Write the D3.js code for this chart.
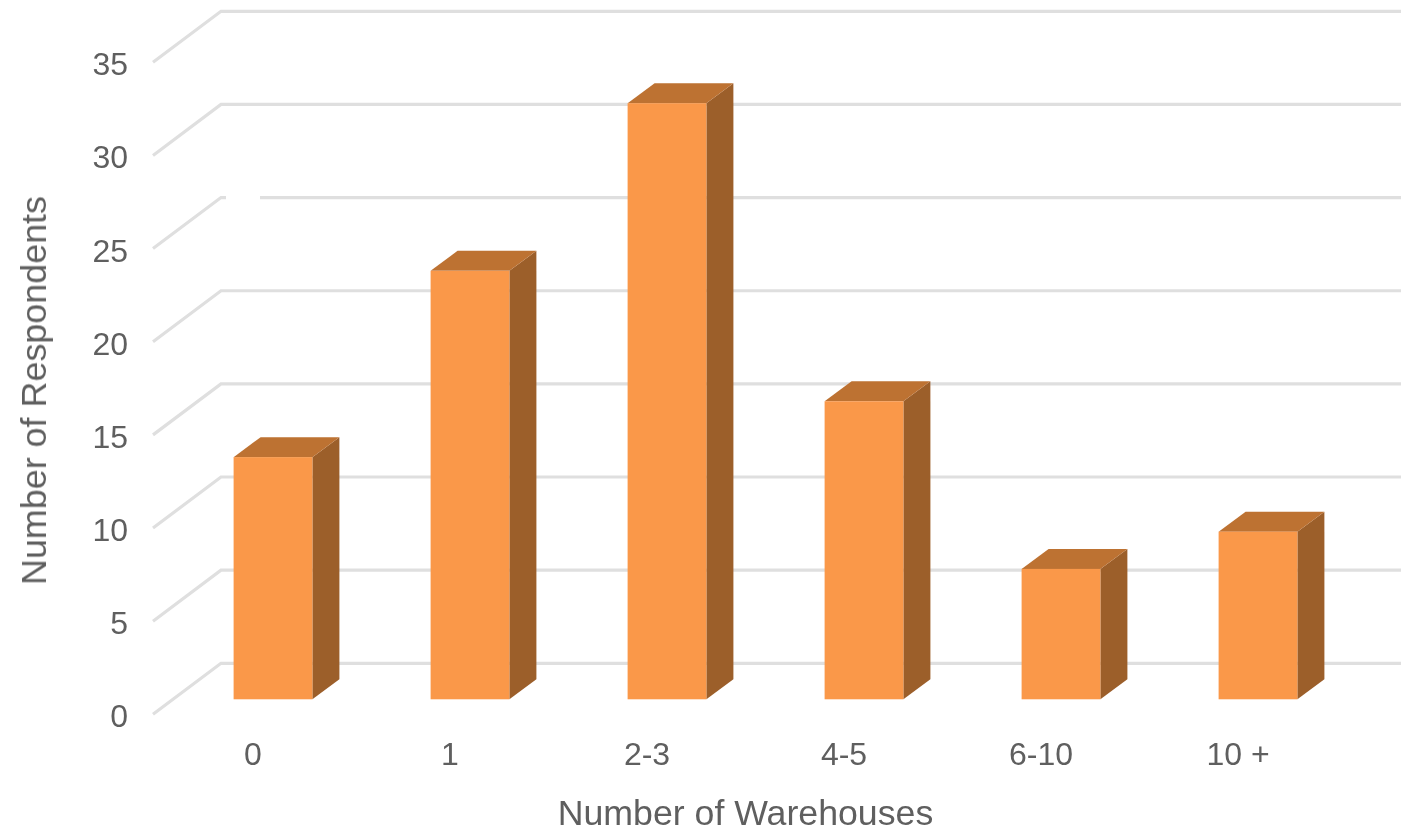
<!DOCTYPE html>
<html>
<head>
<meta charset="utf-8">
<script src="https://cdn.jsdelivr.net/npm/d3@7"></script>
<style>
html,body{margin:0;padding:0;background:#fff}
svg{display:block}
text{font-family:"Liberation Sans",Arial,sans-serif;fill:#5e5e5e}
</style>
</head>
<body>
<svg id="c" width="1401" height="833"></svg>
<script>
const categories = ["0","1","2-3","4-5","6-10","10 +"];
const respondents = [13,23,32,16,7,9];
const yTicks = [0,5,10,15,20,25,30,35];
const xTitle = "Number of Warehouses";
const yTitle = "Number of Respondents";

const svg = d3.select("#c");
const defs = svg.append("defs");
defs.append("filter").attr("id","soft").attr("x","-5%").attr("y","-5%").attr("width","110%").attr("height","110%")
  .append("feGaussianBlur").attr("stdDeviation",0.65);
defs.append("filter").attr("id","softText").attr("filterUnits","userSpaceOnUse")
  .attr("x",0).attr("y",0).attr("width",1401).attr("height",833)
  .append("feGaussianBlur").attr("stdDeviation",0.45);

const y = d3.scaleLinear().domain([0,35]).range([663.3,11.3]);
const x = d3.scaleBand().domain(categories).range([174.5,1356.5]).paddingInner(0.6).paddingOuter(0.3);
const wallX = 221, wallRight = 1401;
const floorDx = 68, floorDy = 51;      // side wall projection
const barDx = 27, barDy = 20;          // bar depth projection
const barShift = 36;                   // bar front plane below back wall

const g = svg.append("g").attr("filter","url(#soft)");

// gridlines
const grid = g.append("g").attr("fill","none").attr("stroke","#dfdfdf").attr("stroke-width",3.2);
grid.selectAll("path").data(yTicks).join("path")
  .attr("d", d => d3.line()([[wallX-floorDx,y(d)+floorDy],[wallX,y(d)],[wallRight,y(d)]]));

// faint white artefact on the 25 gridline
g.append("line").attr("x1",226).attr("x2",260).attr("y1",y(25)).attr("y2",y(25))
  .attr("stroke","#fff").attr("stroke-width",5);

// bars
const bars = g.append("g").selectAll("g").data(categories.map((c,i)=>({c,v:respondents[i]}))).join("g");
const bw = x.bandwidth();
bars.append("path").attr("fill","#9c5e2a").attr("d", d=>{
  const r=x(d.c)+bw, t=y(d.v)+barShift, b=y(0)+barShift;
  return d3.line()([[r,t],[r+barDx,t-barDy],[r+barDx,b-barDy],[r,b]])+"Z";
});
bars.append("path").attr("fill","#bd7233").attr("d", d=>{
  const l=x(d.c), r=l+bw, t=y(d.v)+barShift;
  return d3.line()([[l,t],[l+barDx,t-barDy],[r+barDx,t-barDy],[r,t]])+"Z";
});
bars.append("rect").attr("fill","#fa9849")
  .attr("x",d=>x(d.c)).attr("width",bw)
  .attr("y",d=>y(d.v)+barShift).attr("height",d=>y(0)-y(d.v));

const labels = svg.append("g").attr("filter","url(#softText)");
const fs = 32;
// y tick labels
labels.append("g").selectAll("text").data(yTicks).join("text")
  .attr("x",128).attr("y",d=>y(d)+floorDy+13).attr("text-anchor","end")
  .attr("font-size",fs).text(d=>d);

// x tick labels
labels.append("g").selectAll("text").data(categories).join("text")
  .attr("x",c=>x(c)+bw/2-20).attr("y",765).attr("text-anchor","middle")
  .attr("font-size",fs).text(c=>c);

// axis titles
labels.append("text").attr("x",745.5).attr("y",825).attr("text-anchor","middle")
  .attr("font-size",35.7).text(xTitle);
labels.append("text").attr("transform","translate(46,390.5) rotate(-90)").attr("text-anchor","middle")
  .attr("font-size",35.9).text(yTitle);
</script>
</body>
</html>
